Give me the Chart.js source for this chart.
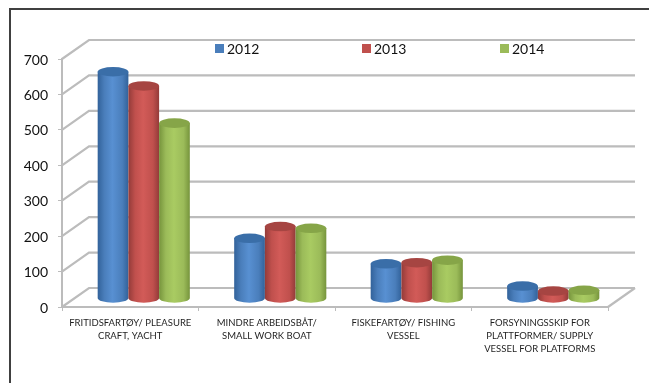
<!DOCTYPE html>
<html>
<head>
<meta charset="utf-8">
<style>
  html, body { margin: 0; padding: 0; background: #fff; }
  #wrap { width: 649px; height: 383px; }
  canvas { display: block; filter: blur(0.55px); }
</style>
</head>
<body>
<div id="wrap"><canvas id="chart" width="649" height="383"></canvas></div>
<script src="https://cdn.jsdelivr.net/npm/chart.js@4"></script>
<script>
const categories = [
  ['FRITIDSFARTØY/ PLEASURE', 'CRAFT, YACHT'],
  ['MINDRE ARBEIDSBÅT/', 'SMALL WORK BOAT'],
  ['FISKEFARTØY/ FISHING', 'VESSEL'],
  ['FORSYNINGSSKIP FOR', 'PLATTFORMER/ SUPPLY', 'VESSEL FOR PLATFORMS']
];
const years = ['2012', '2013', '2014'];
const values2012 = [640, 170, 98, 35];
const values2013 = [600, 203, 101, 21];
const values2014 = [495, 198, 108, 23];

// light, mid, dark, cap
const blue = ['#5890d2', '#4a7ebb', '#32629a', '#3a6ea8'];
const red = ['#d25b58', '#c0504d', '#933b39', '#a64542'];
const green = ['#a9cb62', '#9bbb59', '#76943c', '#86a548'];
const palette = [blue, red, green];

const legendX = [215, 362, 500];
const gridColor = '#bcbcbc';
const depthX = 27;
const depthY = -19;

const wallsPlugin = {
  id: 'walls',
  beforeDatasetsDraw(chart) {
    const { ctx, chartArea: area, scales: { y } } = chart;
    ctx.save();
    ctx.strokeStyle = gridColor;
    ctx.lineWidth = 2.2;
    y.ticks.forEach(tick => {
      const py = y.getPixelForValue(tick.value);
      ctx.beginPath();
      ctx.moveTo(area.left, py);
      ctx.lineTo(area.left + depthX, py + depthY);
      ctx.lineTo(area.right + depthX, py + depthY);
      ctx.stroke();
    });
    // floor edges
    ctx.beginPath();
    ctx.moveTo(area.right, area.bottom);
    ctx.lineTo(area.right + depthX, area.bottom + depthY);
    ctx.stroke();
    ctx.restore();
  }
};

const cylinderPlugin = {
  id: 'cylinders',
  afterDatasetsDraw(chart) {
    const { ctx } = chart;
    const shiftX = depthX / 2;
    const shiftY = -8.5;
    chart.data.datasets.forEach((ds, i) => {
      const colors = palette[i];
      chart.getDatasetMeta(i).data.forEach(bar => {
        const left = bar.x - bar.width / 2 + shiftX;
        const right = left + bar.width;
        const mid = (left + right) / 2;
        const top = bar.y + shiftY;
        const base = bar.base + shiftY;
        const rx = bar.width / 2;
        const ry = bar.width * 0.155;

        const grad = ctx.createLinearGradient(left, 0, right, 0);
        grad.addColorStop(0, colors[2]);
        grad.addColorStop(0.22, colors[1]);
        grad.addColorStop(0.48, colors[0]);
        grad.addColorStop(0.8, colors[1]);
        grad.addColorStop(1, colors[2]);

        ctx.save();
        ctx.fillStyle = grad;
        ctx.beginPath();
        ctx.moveTo(left, top);
        ctx.lineTo(left, base);
        ctx.ellipse(mid, base, rx, ry, 0, Math.PI, 0, true);
        ctx.lineTo(right, top);
        ctx.closePath();
        ctx.fill();

        ctx.fillStyle = colors[3];
        ctx.beginPath();
        ctx.ellipse(mid, top, rx, ry, 0, 0, Math.PI * 2);
        ctx.fill();
        ctx.restore();
      });
    });
  }
};

const framePlugin = {
  id: 'frame',
  beforeDraw(chart) {
    const { ctx, width, height } = chart;
    ctx.save();
    ctx.strokeStyle = '#404040';
    ctx.lineWidth = 2;
    ctx.beginPath();
    ctx.moveTo(10, height);
    ctx.lineTo(10, 9);
    ctx.lineTo(width, 9);
    ctx.stroke();
    ctx.restore();
  },
  afterDraw(chart) {
    // legend is spaced unevenly in the original, so it is drawn by hand
    const { ctx } = chart;
    ctx.save();
    ctx.font = '14px Lato';
    ctx.textBaseline = 'middle';
    years.forEach((year, i) => {
      ctx.fillStyle = palette[i][1];
      ctx.fillRect(legendX[i], 44, 9, 9);
      ctx.fillStyle = '#111';
      ctx.fillText(year, legendX[i] + 12, 49);
    });
    ctx.restore();
  }
};

new Chart(document.getElementById('chart'), {
  type: 'bar',
  data: {
    labels: categories,
    datasets: [
      { label: years[0], data: values2012, backgroundColor: 'transparent' },
      { label: years[1], data: values2013, backgroundColor: 'transparent' },
      { label: years[2], data: values2014, backgroundColor: 'transparent' }
    ]
  },
  options: {
    responsive: false,
    animation: false,
    layout: { padding: { left: 0, top: 59, right: 41, bottom: 0 } },
    datasets: { bar: { categoryPercentage: 0.675, barPercentage: 1 } },
    plugins: { legend: { display: false }, tooltip: { enabled: false } },
    scales: {
      x: {
        afterFit: scale => { scale.height = 76; },
        grid: { drawOnChartArea: false, color: gridColor, tickLength: 4 },
        border: { color: gridColor, width: 2 },
        ticks: {
          maxRotation: 0,
          autoSkip: false,
          padding: 5,
          color: '#1f1f1f',
          font: { family: 'Lato', size: 9.5, lineHeight: 1.4 }
        }
      },
      y: {
        min: 0,
        max: 700,
        afterFit: scale => { scale.width = 62; },
        grid: { drawOnChartArea: false, color: gridColor, tickLength: 4 },
        border: { color: gridColor, width: 2 },
        ticks: {
          stepSize: 100,
          padding: 10,
          labelOffset: 1,
          color: '#111',
          font: { family: 'Lato', size: 14 }
        }
      }
    }
  },
  plugins: [framePlugin, wallsPlugin, cylinderPlugin]
});
</script>
</body>
</html>
